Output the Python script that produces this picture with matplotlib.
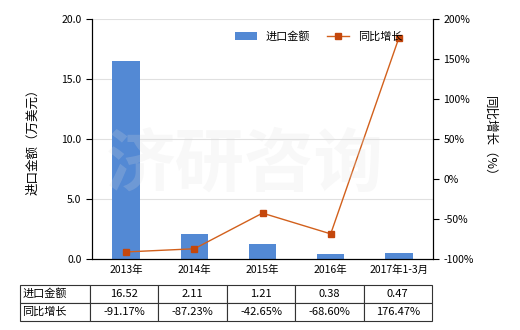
import matplotlib
matplotlib.use("Agg")
import matplotlib.pyplot as plt
import numpy as np

plt.rcParams['font.family'] = ['Noto Sans CJK SC', 'DejaVu Sans']
plt.rcParams['font.size'] = 7.5

# data
years = ["2013年", "2014年", "2015年", "2016年", "2017年1-3月"]
amount = [16.52, 2.11, 1.21, 0.38, 0.47]
growth = [-91.17, -87.23, -42.65, -68.60, 176.47]
amount_labels = ["16.52", "2.11", "1.21", "0.38", "0.47"]
growth_labels = ["-91.17%", "-87.23%", "-42.65%", "-68.60%", "176.47%"]

bar_color = "#5389d4"
line_color = "#d2601c"
mark_color = "#c4470c"

fig = plt.figure(figsize=(5.2, 3.3), dpi=100)
ax = fig.add_axes([92/520, 1-259/330, (433-92)/520, (259-19)/330])
x = np.arange(len(years))

ax.bar(x, amount, width=0.4, color=bar_color, zorder=2, label="进口金额")
ax.set_ylim(0, 20)
ax.set_yticks([0, 5, 10, 15, 20])
ax.set_yticklabels(["0.0", "5.0", "10.0", "15.0", "20.0"])
ax.set_xlim(-0.5, len(years) - 0.5)
ax.set_xticks(x)
ax.set_xticklabels(years)
ax.tick_params(axis="x", length=0, pad=4)
ax.tick_params(axis="y", length=4, direction="out")
ax.grid(axis="y", color="#e0e0e0", linewidth=0.8, zorder=0)
ax.set_axisbelow(True)
ax.spines["top"].set_visible(False)
ax.set_ylabel("进口金额（万美元）", labelpad=16, fontsize=9)

ax2 = ax.twinx()
ax2.plot(x, growth, color=line_color, linewidth=1, marker="s", markersize=4.5,
         markerfacecolor=mark_color, markeredgecolor=mark_color, label="同比增长", zorder=3)
ax2.set_ylim(-100, 200)
ax2.set_yticks([-100, -50, 0, 50, 100, 150, 200])
ax2.set_yticklabels([f"{v}%" for v in [-100, -50, 0, 50, 100, 150, 200]])
ax2.tick_params(axis="y", length=4, direction="out")
ax2.spines["top"].set_visible(False)
ax2.set_ylabel("同比增长（%）", rotation=270, labelpad=16, fontsize=9)

h1, l1 = ax.get_legend_handles_labels()
h2, l2 = ax2.get_legend_handles_labels()
ax2.legend(h1 + h2, l1 + l2, loc="upper right", bbox_to_anchor=(0.94, 0.99), ncol=2,
           frameon=False, handlelength=2.0, columnspacing=1.5, fontsize=8)

# faint watermark on top
fig.text(0.47, 0.5, "济研咨询", fontsize=50, color="#dddddd", ha="center", va="center",
         fontweight="bold", zorder=10, alpha=0.2)

# table below
tax = fig.add_axes([20/520, 1-321/330, (432-20)/520, (321-285)/330])
tax.axis("off")
cells = [["进口金额"] + amount_labels, ["同比增长"] + growth_labels]
first_w = 70.0
other_w = (412 - first_w) / 5
widths = [first_w / 412] + [other_w / 412] * 5
tbl = tax.table(cellText=cells, colWidths=widths, bbox=[0, 0, 1, 1], cellLoc="center")
tbl.auto_set_font_size(False)
tbl.set_fontsize(8)
for (r, c), cell in tbl.get_celld().items():
    cell.set_edgecolor("#333333")
    cell.set_linewidth(0.8)
    if c == 0:
        cell._loc = "left"
        cell.PAD = 0.03
        cell.get_text().set_ha("left")

fig.savefig("out.png", dpi=100)
